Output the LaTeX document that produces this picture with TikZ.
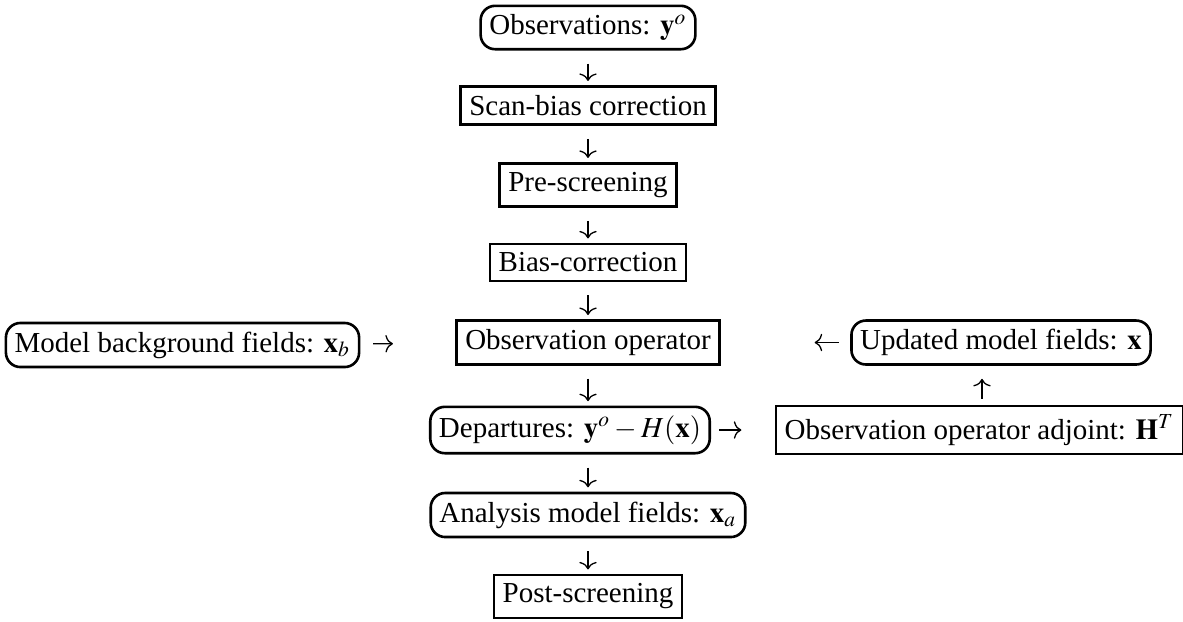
\documentclass[tikz,border=0pt]{standalone}
\usepackage{mathptmx}
\usepackage[no-math]{fontspec}
\setmainfont{Liberation Serif}
\usetikzlibrary{arrows.meta}

\tikzset{
	box/.style={draw, line width=0.9pt, inner sep=3pt},
	oval/.style={box, rounded corners=5pt},
	flow/.style={-{Computer Modern Rightarrow[length=2.6pt,width=6pt]}, line width=0.45pt},
}

\begin{document}
\begin{tikzpicture}[x=0.345pt, y=-0.345pt]
\useasboundingbox (0,0) rectangle (1183,621);

%----------------------------
% Middle column: processing chain
%----------------------------
\node[oval] (obs) at (588,27.5) {Observations: $\mathbf{y}^o$};
\node[box] (scan) at (588,105.5) {Scan-bias correction};
\node[box] (pre) at (588,185) {Pre-screening};
\node[box] (bias) at (588,262.5) {Bias-correction};
\node[box] (obsop) at (588,342.5) {Observation operator};
\node[oval] (dep) at (570,430) {Departures: $\mathbf{y}^o-H(\mathbf{x})$};
\node[oval] (ana) at (588,515) {Analysis model fields: $\mathbf{x}_a$};
\node[box] (post) at (588,596.5) {Post-screening};

%----------------------------
% Left: background fields
%----------------------------
\node[oval] (model) at (182.5,345) {Model background fields: $\mathbf{x}_b$};

%----------------------------
% Right: adjoint loop
%----------------------------
\node[oval] (upd) at (1001,342.5) {Updated model fields: $\mathbf{x}$};
\node[box] (adj) at (979.5,430) {Observation operator adjoint: $\mathbf{H}^T$};

% down the chain
\draw[flow, shorten <=4.5pt, shorten >=1.5pt] (obs) -- (scan);
\draw[flow, shorten <=4.5pt, shorten >=1.5pt] (scan) -- (pre);
\draw[flow, shorten <=4.5pt, shorten >=1.5pt] (pre) -- (bias);
\draw[flow, shorten <=4.5pt, shorten >=1.5pt] (bias) -- (obsop);
\draw[flow, shorten <=4.5pt, shorten >=1.5pt] (obsop) -- (obsop |- dep.north);
\draw[flow, shorten <=4.5pt, shorten >=1.5pt] (dep.south -| ana) -- (ana);
\draw[flow, shorten <=4.5pt, shorten >=1.5pt] (ana) -- (post);

% sideways
\draw[flow, shorten <=4.4pt, shorten >=21.5pt] (model) -- (obsop);
\draw[flow, shorten <=2.8pt, shorten >=11.5pt] (dep) -- (adj.west |- dep);
\draw[flow, shorten <=2pt, shorten >=4.5pt] (adj.north -| 982,0) -- (upd.south -| 982,0);
\draw[flow, shorten <=4pt, shorten >=32.4pt] (upd) -- (obsop);
\end{tikzpicture}
\end{document}
